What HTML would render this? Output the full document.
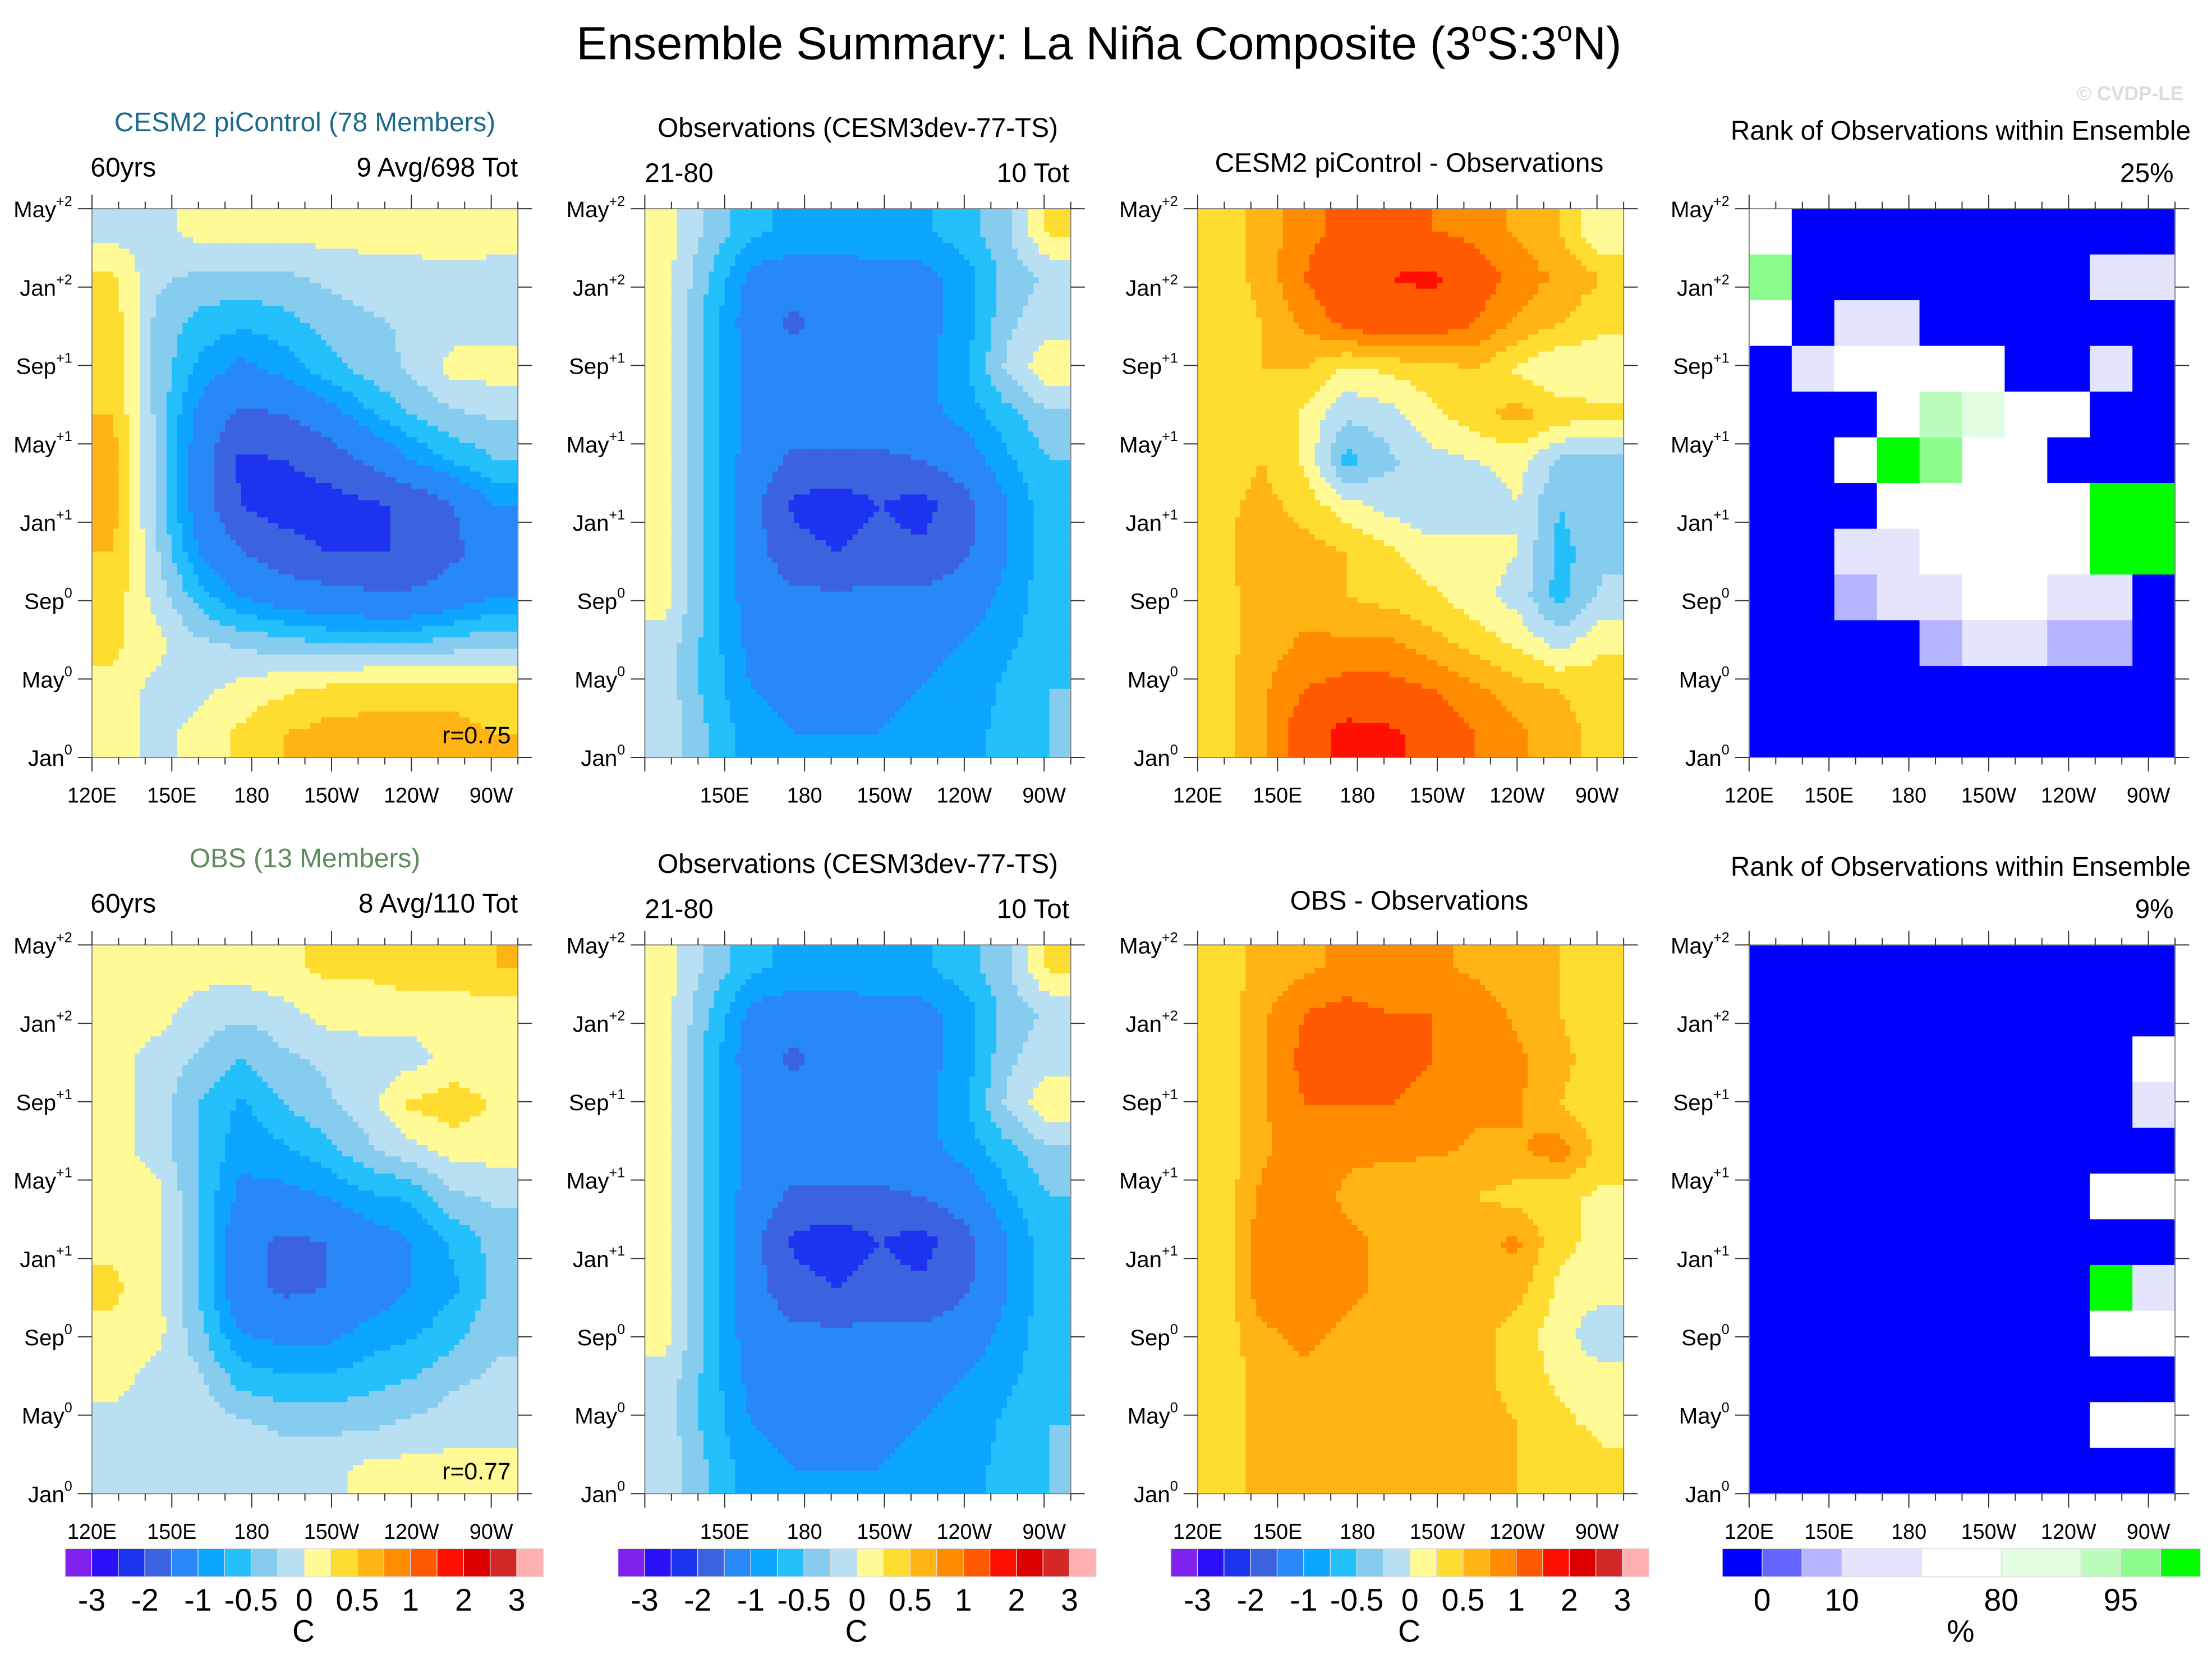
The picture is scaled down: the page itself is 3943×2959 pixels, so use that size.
<!DOCTYPE html>
<html><head><meta charset="utf-8"><style>
html,body{margin:0;padding:0;background:#fff}
svg{display:block}
text{font-family:"Liberation Sans",Arial,sans-serif;fill:#000}
</style></head><body>
<svg id="fig" width="3943" height="2959" viewBox="0 0 1568 1177" xmlns="http://www.w3.org/2000/svg">
<text x="779" y="42" font-size="33" text-anchor="middle">Ensemble Summary: La Niña Composite (3<tspan font-size="20" dy="-13">o</tspan><tspan dy="13">S:3</tspan><tspan font-size="20" dy="-13">o</tspan><tspan dy="13">N)</tspan></text>
<text x="1548" y="71" font-size="14" style="fill:#dcdcdc" text-anchor="end" font-weight="bold">© CVDP-LE</text>
<g id="panels"></g>
</svg>
<script>
// ---- data (rows: May+2 at top down to Jan0; cols: 120E .. 80W) ----
const months = ["May","Jan","Sep","May","Jan","Sep","May","Jan"];
const monthSup = ["+2","+2","+1","+1","+1","0","0","0"];
const lonLabels = ["120E","150E","180","150W","120W","90W"];
const lonValues = [120,150,180,210,240,270];
const tempThresholds = [-3,-2.5,-2,-1.5,-1,-0.75,-0.5,-0.25,0,0.25,0.5,0.75,1,1.5,2,2.5,3];
const tempLabels = ["-3","-2","-1","-0.5","0","0.5","1","2","3"];
const tempLabelIdx = [0,2,4,6,8,10,12,14,16];
const rankThresholds = [2,5,10,40,80,90,95,98];
const rankLabels = ["0","10","80","95"];
const rankLabelIdx = [0,2,4,6];

const cesmTop = [
[-0.1,-0.1,0.1,0.1,0.1,0.1,0.1,0.1,0.2,0.1],
[0.3,-0.2,-0.3,-0.3,-0.3,-0.2,-0.1,-0.1,-0.1,-0.1],
[0.4,-0.3,-0.6,-0.7,-0.6,-0.4,-0.3,-0.2,-0.1,-0.1],
[0.4,-0.3,-0.8,-1.1,-0.9,-0.6,-0.4,-0.2,0.1,0.1],
[0.5,-0.3,-1.1,-1.6,-1.5,-1.2,-0.8,-0.5,-0.3,-0.2],
[0.6,-0.3,-1.2,-2.1,-2.0,-1.8,-1.4,-1.0,-0.7,-0.5],
[0.6,-0.3,-1.2,-2.0,-2.2,-2.2,-2.1,-1.9,-1.5,-1.0],
[0.5,-0.2,-1.0,-1.5,-1.8,-2.0,-2.0,-2.0,-1.6,-1.2],
[0.4,-0.1,-0.6,-1.0,-1.2,-1.3,-1.4,-1.4,-1.2,-1.0],
[0.3,0.1,-0.2,-0.3,-0.4,-0.5,-0.5,-0.5,-0.4,-0.3],
[0.2,-0.1,-0.1,0.1,0.2,0.3,0.4,0.4,0.4,0.3],
[0.2,-0.1,0.1,0.3,0.5,0.6,0.6,0.6,0.6,0.5]];
const obsGrid = [
[0.1,-0.3,-0.7,-0.8,-0.8,-0.8,-0.8,-0.6,-0.3,0.3],
[0.1,-0.5,-1.1,-1.2,-1.2,-1.1,-1.1,-0.9,-0.4,-0.2],
[0.1,-0.6,-1.2,-1.6,-1.3,-1.2,-1.1,-0.9,-0.3,-0.1],
[0.1,-0.6,-1.1,-1.2,-1.2,-1.1,-1.1,-0.8,-0.2,0.2],
[0.1,-0.6,-1.1,-1.2,-1.2,-1.2,-1.1,-0.9,-0.6,-0.3],
[0.1,-0.6,-1.2,-1.6,-1.6,-1.6,-1.5,-1.2,-0.8,-0.5],
[0.1,-0.6,-1.3,-2.1,-2.3,-2.0,-2.2,-1.7,-1.0,-0.6],
[0.1,-0.6,-1.3,-1.8,-2.0,-1.8,-1.9,-1.6,-1.0,-0.6],
[0.1,-0.6,-1.2,-1.4,-1.4,-1.4,-1.4,-1.2,-0.9,-0.6],
[-0.1,-0.6,-1.1,-1.1,-1.1,-1.1,-1.1,-1.0,-0.8,-0.6],
[-0.1,-0.6,-1.0,-1.1,-1.1,-1.1,-1.0,-0.9,-0.7,-0.5],
[-0.1,-0.5,-0.9,-1.0,-1.0,-1.0,-0.9,-0.8,-0.7,-0.5]];
const diffTop = [
[0.3,0.6,0.9,1.1,1.1,1.0,0.9,0.7,0.5,0.0],
[0.3,0.6,1.0,1.3,1.5,1.6,1.2,0.9,0.7,0.5],
[0.3,0.5,0.8,1.1,1.3,1.2,1.0,0.7,0.5,0.3],
[0.3,0.5,0.5,0.2,0.3,0.4,0.5,0.2,0.0,0.1],
[0.3,0.5,0.2,-0.2,-0.1,0.2,0.4,0.6,0.4,0.3],
[0.3,0.5,0.2,-0.6,-0.3,-0.1,0.0,0.1,-0.3,-0.3],
[0.4,0.6,0.4,0.1,-0.1,-0.2,-0.2,0.0,-0.5,-0.3],
[0.4,0.7,0.6,0.5,0.3,0.1,0.1,0.0,-0.6,-0.3],
[0.4,0.6,0.6,0.5,0.4,0.3,0.1,-0.1,-0.6,-0.2],
[0.4,0.6,0.8,0.8,0.8,0.6,0.4,0.2,-0.1,0.2],
[0.4,0.7,1.0,1.1,1.1,1.0,0.8,0.6,0.5,0.4],
[0.4,0.7,1.2,1.7,1.6,1.3,1.0,0.8,0.6,0.4]];
const obsEnsBottom = [
[0.1,0.1,0.1,0.1,0.2,0.3,0.3,0.4,0.4,0.5],
[0.1,0.1,-0.1,-0.2,-0.1,0.1,0.1,0.1,0.1,0.1],
[0.1,-0.1,-0.3,-0.5,-0.3,-0.2,-0.1,-0.1,0.1,0.1],
[0.1,-0.1,-0.5,-0.8,-0.5,-0.3,-0.1,0.3,0.4,0.2],
[0.1,-0.1,-0.5,-0.9,-0.8,-0.6,-0.3,-0.1,0.1,0.1],
[0.2,0.1,-0.5,-1.1,-1.1,-1.0,-0.8,-0.7,-0.3,-0.2],
[0.2,0.1,-0.5,-1.3,-1.6,-1.5,-1.2,-1.0,-0.7,-0.4],
[0.3,0.1,-0.5,-1.3,-1.6,-1.5,-1.2,-1.0,-0.8,-0.4],
[0.2,0.1,-0.4,-1.0,-1.1,-1.1,-0.9,-0.8,-0.6,-0.3],
[0.1,-0.1,-0.2,-0.6,-0.7,-0.7,-0.6,-0.5,-0.3,-0.2],
[-0.1,-0.1,-0.1,-0.2,-0.3,-0.3,-0.3,-0.2,-0.1,-0.1],
[-0.1,-0.1,-0.1,-0.1,-0.1,-0.1,0.1,0.1,0.1,0.1]];
const diffBottom = [
[0.3,0.6,0.7,0.8,0.8,0.8,0.7,0.6,0.5,0.3],
[0.3,0.7,1.0,1.1,1.0,1.0,0.9,0.7,0.5,0.3],
[0.3,0.7,1.1,1.2,1.1,1.0,0.9,0.8,0.6,0.3],
[0.3,0.7,1.0,1.0,1.0,0.9,0.8,0.8,0.5,0.3],
[0.3,0.7,0.9,0.8,0.8,0.8,0.7,0.7,0.9,0.4],
[0.3,0.8,0.9,0.7,0.6,0.5,0.5,0.4,0.3,0.2],
[0.3,0.9,1.0,0.8,0.7,0.7,0.7,0.8,0.3,0.2],
[0.3,0.9,1.0,0.8,0.7,0.7,0.7,0.6,0.2,0.1],
[0.3,0.7,0.8,0.7,0.7,0.6,0.6,0.4,0.1,-0.2],
[0.3,0.6,0.7,0.7,0.7,0.6,0.6,0.4,0.2,0.1],
[0.3,0.6,0.7,0.7,0.7,0.6,0.6,0.5,0.3,0.2],
[0.3,0.6,0.7,0.7,0.7,0.6,0.5,0.5,0.4,0.3]];
const rankTop = [
[50,0,0,0,0,0,0,0,0,0],
[95,0,0,0,0,0,0,0,30,30],
[50,0,15,10,0,0,0,0,0,0],
[0,20,60,60,50,50,0,0,20,0],
[0,0,0,40,90,80,60,50,0,0],
[0,0,50,99,95,70,50,0,0,0],
[0,0,0,50,60,60,60,60,99,99],
[0,0,15,30,50,60,40,40,99,99],
[0,0,5,10,10,60,50,30,10,0],
[0,0,0,0,5,10,10,5,5,0],
[0,0,0,0,0,0,0,0,0,0],
[0,0,0,0,0,0,0,0,0,0]];
const rankBottom = [
[0,0,0,0,0,0,0,0,0,0],
[0,0,0,0,0,0,0,0,0,0],
[0,0,0,0,0,0,0,0,0,50],
[0,0,0,0,0,0,0,0,0,30],
[0,0,0,0,0,0,0,0,0,0],
[0,0,0,0,0,0,0,0,60,50],
[0,0,0,0,0,0,0,0,0,0],
[0,0,0,0,0,0,0,0,99,20],
[0,0,0,0,0,0,0,0,60,40],
[0,0,0,0,0,0,0,0,0,0],
[0,0,0,0,0,0,0,0,50,50],
[0,0,0,0,0,0,0,0,0,0]];

const tempColors = ["#7f22ee","#2a0ff8","#1c33f0","#3b63e0","#2888f8","#0ca5ff","#23c0fb","#86ccef","#b8e0f2","#fffa96","#ffdc30","#ffb414","#ff8c00","#ff5a00","#ff1000","#dc0000","#d42828","#ffb0b0"];
const rankColors = ["#0000ff","#6464ff","#b4b4ff","#e4e4fc","#ffffff","#e2fde2","#bcfcbc","#8cfc8c","#00ff00"];
const rankUnits = [1,1,1,2,2,2,1,1,1];

const NS="http://www.w3.org/2000/svg";
const root=document.getElementById('panels');
function el(tag,attrs,parent){const e=document.createElementNS(NS,tag);for(const k in attrs)e.setAttribute(k,attrs[k]);(parent||root).appendChild(e);return e;}
function txt(x,y,s,size,anchor,parent,fill){const t=el('text',{x:x,y:y,'font-size':size,'text-anchor':anchor||'start'},parent);if(fill)t.setAttribute('style','fill:'+fill);t.textContent=s;return t;}
function colorFor(v,th,cols){let i=0;while(i<th.length&&v>=th[i])i++;return cols[i];}

const colX=[65,457,849,1240], W=302, H=389, rowY=[148,670];
const lonMin=120, lonMax=280;
function xScale(px,lon){return px+(lon-lonMin)/(lonMax-lonMin)*W;}

function drawPanel(px,py,grid,th,cols,name,showLon0,smooth){
  const g=el('g',{});
  
  
  const R=grid.length,C=grid[0].length,S=smooth?8:1;
  const nr=R*S,nc=C*S,cw=W/nc,ch=H/nr;
  for(let i=0;i<nr;i++){for(let j=0;j<nc;j++){
    let v;
    if(smooth){
      const fy=Math.min(Math.max((i+0.5)/S-0.5,0),R-1), fx=Math.min(Math.max((j+0.5)/S-0.5,0),C-1);
      const y0=Math.floor(fy),x0=Math.floor(fx),y1=Math.min(y0+1,R-1),x1=Math.min(x0+1,C-1),ty=fy-y0,tx=fx-x0;
      v=(grid[y0][x0]*(1-tx)+grid[y0][x1]*tx)*(1-ty)+(grid[y1][x0]*(1-tx)+grid[y1][x1]*tx)*ty;
    } else v=grid[i][j];
    const r=el('rect',{x:(px+j*cw).toFixed(2),y:(py+i*ch).toFixed(2),width:(cw+0.4).toFixed(2),height:(ch+0.4).toFixed(2),fill:colorFor(v,th,cols)},g);
    
    
  }}
  el('rect',{x:px,y:py,width:W,height:H,fill:'none',stroke:'#888','stroke-width':0.8},g);
  for(let k=0;k<8;k++){
    const y=py+k*H/7;
    el('line',{x1:px-10,y1:y,x2:px,y2:y,stroke:'#333','stroke-width':0.8},g);
    el('line',{x1:px+W,y1:y,x2:px+W+10,y2:y,stroke:'#333','stroke-width':0.8},g);
    const t=txt(px-14,y+6,months[k],16,'end',g);
    const ts=el('tspan',{'font-size':10,dy:-8},t);ts.textContent=monthSup[k];
    
    
  }
  for(let lon=120;lon<=280;lon+=10){
    const x=xScale(px,lon),major=lon%30==0;
    el('line',{x1:x,y1:py-(major?10:5),x2:x,y2:py,stroke:'#333','stroke-width':0.8},g);
    el('line',{x1:x,y1:py+H,x2:x,y2:py+H+(major?10:5),stroke:'#333','stroke-width':0.8},g);
  }
  lonLabels.forEach((l,i)=>{ if(i==0&&!showLon0)return;
    const t=txt(xScale(px,lonValues[i]),py+H+32,l,15,'middle',g);
    
    
  });
  return g;
}

function colorbar(x0,y0,cols,units,labels,labelIdx,unit,name){
  const g=el('g',{});
  
  
  const total=units?units.reduce((a,b)=>a+b,0):cols.length, uw=339/total;
  let x=x0; const bounds=[];
  cols.forEach((c,i)=>{const w=(units?units[i]:1)*uw;
    const r=el('rect',{x:x,y:y0,width:w,height:20,fill:c,stroke:'#ddd','stroke-width':0.5},g);
    
    
    x+=w;bounds.push(x);});
  labels.forEach((l,i)=>{const t=txt(bounds[labelIdx[i]],y0+44,l,22,'middle',g);
    
    });
  const u=txt(x0+169,y0+66,unit,22,'middle',g);
  
  
}

drawPanel(colX[0],rowY[0],cesmTop,tempThresholds,tempColors,'cesm2-picontrol-composite',true,true);
drawPanel(colX[1],rowY[0],obsGrid,tempThresholds,tempColors,'observations-composite-top',false,true);
drawPanel(colX[2],rowY[0],diffTop,tempThresholds,tempColors,'cesm2-minus-obs-composite',true,true);
drawPanel(colX[3],rowY[0],rankTop,rankThresholds,rankColors,'rank-obs-top',true,false);
drawPanel(colX[0],rowY[1],obsEnsBottom,tempThresholds,tempColors,'obs-ensemble-composite',true,true);
drawPanel(colX[1],rowY[1],obsGrid,tempThresholds,tempColors,'observations-composite-bottom',false,true);
drawPanel(colX[2],rowY[1],diffBottom,tempThresholds,tempColors,'obs-minus-obs-composite',true,true);
drawPanel(colX[3],rowY[1],rankBottom,rankThresholds,rankColors,'rank-obs-bottom',true,false);

function T(x,y,s,size,anchor,name,fill){const t=txt(x,y,s,size,anchor,root,fill);
  
  }
T(216,93,"CESM2 piControl (78 Members)",19,'middle','title-cesm2','#1a6a8a');
T(64,125,"60yrs",19,'start','years-cesm2');
T(367,125,"9 Avg/698 Tot",19,'end','count-cesm2');
T(608,97,"Observations (CESM3dev-77-TS)",19,'middle','title-obs-top');
T(457,129,"21-80",19,'start','years-obs-top');
T(758,129,"10 Tot",19,'end','count-obs-top');
T(999,122,"CESM2 piControl - Observations",19,'middle','title-diff-top');
T(1390,99,"Rank of Observations within Ensemble",19,'middle','title-rank-top');
T(1541,129,"25%",19,'end','rank-pct-top');
T(362,527,"r=0.75",17,'end','corr-top');
T(216,615,"OBS (13 Members)",19,'middle','title-obs-ens','#5e8a5e');
T(64,647,"60yrs",19,'start','years-obs-ens');
T(367,647,"8 Avg/110 Tot",19,'end','count-obs-ens');
T(608,619,"Observations (CESM3dev-77-TS)",19,'middle','title-obs-bottom');
T(457,651,"21-80",19,'start','years-obs-bottom');
T(758,651,"10 Tot",19,'end','count-obs-bottom');
T(999,645,"OBS - Observations",19,'middle','title-diff-bottom');
T(1390,621,"Rank of Observations within Ensemble",19,'middle','title-rank-bottom');
T(1541,651,"9%",19,'end','rank-pct-bottom');
T(362,1049,"r=0.77",17,'end','corr-bottom');

colorbar(46,1098,tempColors,null,tempLabels,tempLabelIdx,"C",'colorbar-temp-1');
colorbar(438,1098,tempColors,null,tempLabels,tempLabelIdx,"C",'colorbar-temp-2');
colorbar(830,1098,tempColors,null,tempLabels,tempLabelIdx,"C",'colorbar-temp-3');
colorbar(1221,1098,rankColors,rankUnits,rankLabels,rankLabelIdx,"%",'colorbar-rank');
</script>
</body></html>
